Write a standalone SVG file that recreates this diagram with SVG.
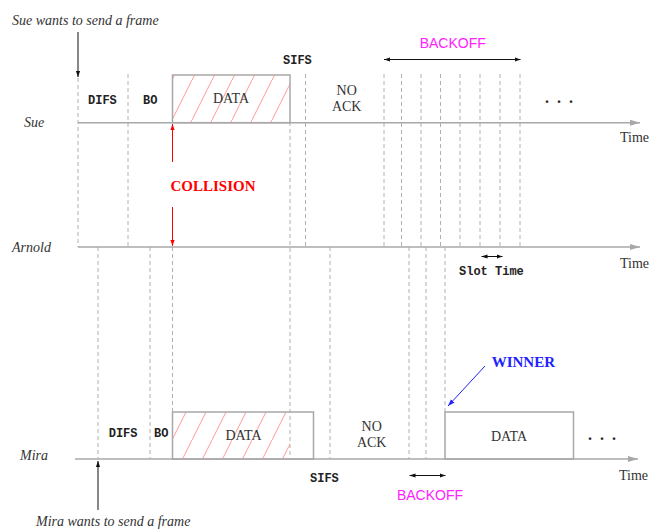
<svg xmlns="http://www.w3.org/2000/svg" width="651" height="530" viewBox="0 0 651 530">
<style>
.axis{stroke:#a8a8a8;stroke-width:1.5;fill:none}
.dash{stroke:#b0b0b0;stroke-width:1;stroke-dasharray:4 3;fill:none}
.box{stroke:#a8a8a8;stroke-width:1.5;fill:none}
.it{font-family:"Liberation Serif",serif;font-style:italic;font-size:14px;fill:#333}
.rm{font-family:"Liberation Serif",serif;font-size:14px;fill:#333}
.mono{font-family:"Liberation Mono",monospace;font-weight:bold;font-size:12px;fill:#222}
.bk{font-family:"Liberation Sans",sans-serif;font-size:14px;fill:#ff22ff}
.dots{font-family:"Liberation Serif",serif;font-weight:bold;font-size:16px;fill:#222;letter-spacing:2px}
.blk{stroke:#111;stroke-width:1;fill:none}
</style>
<defs>
<marker id="ag" viewBox="0 0 10 10" refX="10" refY="5" markerWidth="7" markerHeight="7" orient="auto"><path d="M0,2 L10,5 L0,8 z" fill="#a8a8a8"/></marker>
<marker id="ak" viewBox="0 0 10 10" refX="10" refY="5" markerWidth="6" markerHeight="6" orient="auto-start-reverse"><path d="M0,1.5 L10,5 L0,8.5 z" fill="#111"/></marker>
<marker id="ar" viewBox="0 0 10 10" refX="10" refY="5" markerWidth="6" markerHeight="6" orient="auto"><path d="M0,1.5 L10,5 L0,8.5 z" fill="#ff0000"/></marker>
<marker id="ab" viewBox="0 0 10 10" refX="10" refY="5" markerWidth="7" markerHeight="7" orient="auto"><path d="M0,1.5 L10,5 L0,8.5 z" fill="#2222ff"/></marker>
<pattern id="hatch" patternUnits="userSpaceOnUse" x="172" y="0" width="20" height="40"><path d="M0,40 L20,0" stroke="#ff9a9a" stroke-width="1"/></pattern>
</defs>

<g id="connectors">
<path class="dash" d="M78,78 V247 M128,74 V247 M290,122 V459 M305.5,74 V247 M384,74 V247 M401.5,74 V247 M421,74 V247 M440.5,74 V247 M460,74 V247 M480,74 V247 M500,74 V247 M520,74 V247"/>
<path class="dash" d="M98,247 V459 M150,247 V459 M172.5,247 V412 M330,247 V459 M409,247 V459 M426,247 V459 M445,247 V412"/>
<line class="blk" x1="78" y1="32" x2="78" y2="77" stroke-width="1.5" marker-end="url(#ak)"/>
<line class="blk" x1="98" y1="510" x2="98" y2="461" stroke-width="1.5" marker-end="url(#ak)"/>
<line x1="172.5" y1="162" x2="172.5" y2="124" stroke="#ff0000" stroke-width="1" marker-end="url(#ar)"/>
<line x1="172.5" y1="207" x2="172.5" y2="246" stroke="#ff0000" stroke-width="1" marker-end="url(#ar)"/>
<line class="blk" x1="384" y1="59.5" x2="520.5" y2="59.5" marker-start="url(#ak)" marker-end="url(#ak)"/>
<line class="blk" x1="481.5" y1="256.5" x2="502.5" y2="256.5" marker-start="url(#ak)" marker-end="url(#ak)"/>
<line class="blk" x1="409.5" y1="475.5" x2="445.5" y2="475.5" marker-start="url(#ak)" marker-end="url(#ak)"/>
<line x1="485" y1="366" x2="448" y2="406" stroke="#2222ff" stroke-width="1" marker-end="url(#ab)"/>
</g>

<g id="sue">
<line class="axis" x1="78" y1="122.7" x2="640" y2="122.7" marker-end="url(#ag)"/>
<text class="it" x="24" y="127">Sue</text>
<text class="rm" x="620" y="141.5">Time</text>
</g>
<g id="arnold">
<line class="axis" x1="78" y1="247" x2="640" y2="247" marker-end="url(#ag)"/>
<text class="it" x="12" y="252">Arnold</text>
<text class="rm" x="620" y="268">Time</text>
</g>
<g id="mira">
<line class="axis" x1="75" y1="459" x2="638" y2="459" marker-end="url(#ag)"/>
<text class="it" x="20" y="460">Mira</text>
<text class="rm" x="619" y="480">Time</text>
</g>

<g id="sue-wants"><text class="it" x="12" y="25">Sue wants to send a frame</text></g>
<g id="mira-wants"><text class="it" x="36" y="526">Mira wants to send a frame</text></g>

<g id="sue-difs"><text class="mono" x="88" y="104">DIFS</text></g>
<g id="sue-bo"><text class="mono" x="143" y="104">BO</text></g>
<g id="sue-data">
<rect x="172.5" y="75" width="117.5" height="47.7" fill="url(#hatch)"/>
<rect class="box" x="172.5" y="75" width="117.5" height="47.7"/>
<text class="rm" x="231" y="103" text-anchor="middle">DATA</text>
</g>
<g id="sue-sifs"><text class="mono" x="283" y="64">SIFS</text></g>
<g id="sue-noack"><text class="rm" x="346.7" y="95" text-anchor="middle">NO</text><text class="rm" x="346.7" y="111" text-anchor="middle">ACK</text></g>
<g id="sue-backoff"><text class="bk" x="452.7" y="48" text-anchor="middle">BACKOFF</text></g>
<g id="sue-dots"><text class="dots" x="545" y="103">. . .</text></g>

<g id="collision"><text x="213" y="190.5" text-anchor="middle" font-family="Liberation Serif, serif" font-weight="bold" font-size="15" fill="#ff0000">COLLISION</text></g>
<g id="slot-time"><text class="mono" x="459" y="275" font-size="11">Slot Time</text></g>

<g id="winner"><text x="491.7" y="367" font-family="Liberation Serif, serif" font-weight="bold" font-size="15" fill="#2222ff">WINNER</text></g>

<g id="mira-difs"><text class="mono" x="108.7" y="437">DIFS</text></g>
<g id="mira-bo"><text class="mono" x="154" y="437">BO</text></g>
<g id="mira-data1">
<rect x="172.5" y="412" width="117.5" height="47" fill="url(#hatch)"/>
<rect class="box" x="172.5" y="412" width="141" height="47"/>
<text class="rm" x="243.5" y="440" text-anchor="middle">DATA</text>
</g>
<g id="mira-sifs"><text class="mono" x="310" y="482">SIFS</text></g>
<g id="mira-noack"><text class="rm" x="371.7" y="431" text-anchor="middle">NO</text><text class="rm" x="371.7" y="446.5" text-anchor="middle">ACK</text></g>
<g id="mira-backoff"><text class="bk" x="430" y="500" text-anchor="middle">BACKOFF</text></g>
<g id="mira-data2">
<rect class="box" x="445" y="412" width="128.5" height="47"/>
<text class="rm" x="509" y="441" text-anchor="middle">DATA</text>
</g>
<g id="mira-dots"><text class="dots" x="588" y="440">. . .</text></g>
</svg>
